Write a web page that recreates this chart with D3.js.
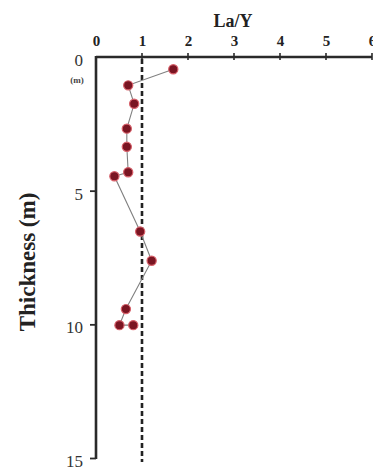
<!DOCTYPE html>
<html><head><meta charset="utf-8">
<script src="https://cdn.jsdelivr.net/npm/d3@7"></script>
<style>body{margin:0;background:#fff}svg{display:block}text{font-family:'Liberation Serif','DejaVu Serif',serif}</style>
</head><body>
<script>
const xTicks = [0,1,2,3,4,5,6];
const yTicks = [0,5,10,15];
const thickness = [0.46,1.06,1.75,2.68,3.36,4.31,4.46,6.53,7.62,9.43,10.03,10.03];
const laY      = [1.68,0.70,0.83,0.67,0.67,0.70,0.40,0.96,1.21,0.65,0.51,0.81];
const refValue = 1;

const W=373,H=469;
const svg=d3.select("body").append("svg").attr("width",W).attr("height",H);
const x=d3.scaleLinear().domain([0,6]).range([96,372]);
const y=d3.scaleLinear().domain([0,15]).range([57,458]);

// x axis (top)
const xa=svg.append("g").attr("transform",`translate(0,${y(0)})`)
  .call(d3.axisTop(x).tickValues(xTicks).tickSize(0).tickPadding(11).tickFormat(d3.format("d")));
xa.select(".domain").remove();
xa.selectAll("text").style("font-family","'Liberation Serif','DejaVu Serif',serif").attr("font-weight","bold").attr("font-size",15).attr("fill","#222");
svg.append("line").attr("x1",x(0)).attr("x2",x(6)).attr("y1",y(0)).attr("y2",y(0)).attr("stroke","#2a2a2a").attr("stroke-width",2.6);
svg.selectAll(".xt").data(xTicks.slice(1)).join("line").attr("x1",d=>x(d)).attr("x2",d=>x(d))
  .attr("y1",y(0)-4).attr("y2",y(0)+3).attr("stroke","#2a2a2a").attr("stroke-width",1.6);

// y axis (left)
svg.append("line").attr("x1",x(0)).attr("x2",x(0)).attr("y1",y(0)-1).attr("y2",y(15)+1).attr("stroke","#2a2a2a").attr("stroke-width",2.6);
const ya=svg.append("g").attr("transform",`translate(${x(0)},0)`)
  .call(d3.axisLeft(y).tickValues(yTicks).tickSize(6).tickPadding(7).tickFormat(d3.format("d")));
ya.select(".domain").remove();
ya.selectAll(".tick line").attr("stroke","#2a2a2a").attr("stroke-width",1.8).attr("opacity",d=>d===0?0:1);
ya.selectAll("text").style("font-family","'Liberation Serif','DejaVu Serif',serif").attr("font-size",17).attr("fill","#333").attr("dy","0.5em");

svg.append("text").attr("x",77).attr("y",83).attr("text-anchor","middle")
  .attr("font-weight","bold").attr("font-size",9).attr("fill","#444").text("(m)");

svg.append("text").attr("x",233).attr("y",27).attr("text-anchor","middle")
  .attr("font-weight","bold").attr("font-size",18).attr("fill","#222").text("La/Y");

svg.append("text").attr("transform",`translate(35,262) rotate(-90)`).attr("text-anchor","middle")
  .attr("font-weight","bold").attr("font-size",23).attr("fill","#222").text("Thickness (m)");

// reference dashed line
svg.append("line").attr("x1",x(refValue)).attr("x2",x(refValue)).attr("y1",y(0)+2).attr("y2",y(15)+4)
  .attr("stroke","#222").attr("stroke-width",2.6).attr("stroke-dasharray","5,3");

const data=thickness.map((t,i)=>({t,v:laY[i]}));
svg.append("path").datum(data).attr("fill","none").attr("stroke","#808080").attr("stroke-width",1.1)
  .attr("d",d3.line().x(d=>x(d.v)).y(d=>y(d.t)));
svg.selectAll(".pt").data(data).join("circle").attr("cx",d=>x(d.v)).attr("cy",d=>y(d.t)).attr("r",4.6)
  .attr("fill","#7a1522").attr("stroke","#d8606a").attr("stroke-width",1.2);
</script>
</body></html>
